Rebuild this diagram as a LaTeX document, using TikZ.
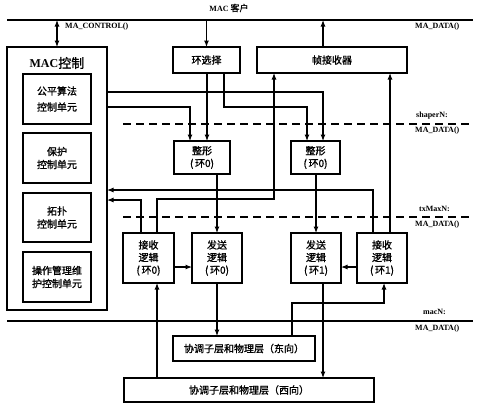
\documentclass[tikz,border=0pt]{standalone}
\usepackage{fontspec}
\setmainfont{Liberation Serif}
\newfontfamily\cjk[FakeBold=1.2]{Noto Sans CJK SC}
\usetikzlibrary{arrows.meta}
\begin{document}
\begin{tikzpicture}[x=1pt,y=-1pt,
  box/.style={draw,line width=1.1pt,inner sep=0pt,outer sep=0pt,align=center,
    font=\cjk\fontsize{10}{12.5}\selectfont},
  unitbox/.style={box,minimum width=68pt,font=\cjk\fontsize{10}{13}\selectfont},
  wire/.style={line width=1.1pt},
  arr/.style={wire,-{Latex[length=6.5pt,width=5pt]}},
  darr/.style={wire,{Latex[length=6.5pt,width=5pt]}-{Latex[length=6.5pt,width=5pt]}},
  bus/.style={line width=1.4pt},
  dbus/.style={line width=1.4pt,dash pattern=on 8pt off 5pt},
  lab/.style={inner sep=0pt,anchor=west,font=\bfseries\fontsize{8}{9}\selectfont},
]
\useasboundingbox (0,0) rectangle (478,405);
\fill[white] (0,0) rectangle (478,405);

% buses
\coordinate (busTopL) at (7,20);
\coordinate (busTopR) at (473,20);
\coordinate (shpL) at (123,124);
\coordinate (shpR) at (473,124);
\coordinate (txL) at (123,217);
\coordinate (txR) at (473,217);
\coordinate (macL) at (7,321);
\coordinate (macR) at (473,321);
\draw[bus] (busTopL) -- (busTopR);
\draw[dbus] (shpL) -- (shpR);
\draw[dbus] (txL) -- (txR);
\draw[bus] (macL) -- (macR);

% labels
\node[inner sep=0pt] (client) at (229,8) {\bfseries\fontsize{8}{9}\selectfont MAC {\cjk\mdseries\fontsize{9}{10}\selectfont 客户}};
\node[lab] (lctrl) at (65,27) {MA\_CONTROL()};
\node[lab] (ld1) at (415,27) {MA\_DATA()};
\node[lab] (lshp) at (416,116) {shaperN:};
\node[lab] (ld2) at (415,131) {MA\_DATA()};
\node[lab] (ltx) at (419,209) {txMaxN:};
\node[lab] (ld3) at (415,225) {MA\_DATA()};
\node[lab] (lmac) at (423,312) {macN:};
\node[lab] (ld4) at (415,329) {MA\_DATA()};

% MAC control
\node[box,minimum width=100pt,minimum height=263pt] (mac) at (57,178.5) {};
\node[inner sep=0pt] (mactitle) at (57,63) {\bfseries\fontsize{12}{14}\selectfont MAC{\cjk\mdseries\fontsize{13}{14}\selectfont 控制}};
\node[unitbox,minimum height=50pt,font=\cjk\fontsize{10}{16}\selectfont] (fair) at (57,99) {公平算法\\控制单元};
\node[unitbox,minimum height=50pt] (prot) at (57,158) {保护\\控制单元};
\node[unitbox,minimum height=49pt] (topo) at (57,217.5) {拓扑\\控制单元};
\node[unitbox,minimum height=50pt] (oam) at (57,277) {操作管理维\\护控制单元};

% top boxes
\node[box,minimum width=67pt,minimum height=26pt] (ringsel) at (206.5,60) {环选择};
\node[box,minimum width=150pt,minimum height=26pt] (framerx) at (332,60) {帧接收器};

% shapers
\node[box,minimum width=56pt,minimum height=33pt] (shaper0) at (202,157.5) {整形\\(\,环0)};
\node[box,minimum width=49pt,minimum height=33pt] (shaper1) at (315.5,157.5) {整形\\(\,环0)};

% logic
\node[box,minimum width=51pt,minimum height=50pt] (recv0) at (148.5,258) {接收\\逻辑\\(\,环0)};
\node[box,minimum width=50pt,minimum height=50pt] (tx0) at (217,258) {发送\\逻辑\\(\,环0)};
\node[box,minimum width=50pt,minimum height=50pt] (tx1) at (316,258) {发送\\逻辑\\(\,环1)};
\node[box,minimum width=50pt,minimum height=50pt] (recv1) at (382,258) {接收\\逻辑\\(\,环1)};

% phy
\node[box,minimum width=142pt,minimum height=25pt] (east) at (244,348.5) {协调子层和物理层（东向）};
\node[box,minimum width=250pt,minimum height=24pt] (west) at (249,390) {协调子层和物理层（西向）};

% connectors
\draw[darr] (mac.north |- busTopL) -- (mac.north);
\draw[arr] (ringsel.south |- busTopL) -- (ringsel.north);
\draw[arr] (framerx.north -| 323,0) -- (323,20);

\draw[arr] (mac.east |- 0,92) -| (shaper1.north -| 323,0);
\draw[arr] (mac.east |- 0,107) -| (shaper0.north -| 190,0);
\draw[arr] (ringsel.south -| 207,0) -- (shaper0.north -| 207,0);
\draw[arr] (ringsel.south -| 224,0) -- (224,107) -| (shaper1.north -| 307,0);

\draw[arr] (shaper0.south -| tx0.north) -- (tx0.north);
\draw[arr] (shaper1.south -| tx1.north) -- (tx1.north);

\draw[arr] (recv0.north -| 141,0) |- (mac.east |- 0,200);
\draw[arr] (recv0.north -| 157,0) -- (157,199) -| (framerx.south -| 274,0);
\draw[arr] (recv1.north -| 373,0) |- (mac.east |- 0,190);
\draw[arr] (recv1.north -| 390,0) -- (framerx.south -| 390,0);

\draw[arr] (recv0.east |- 0,267) -- (tx0.west |- 0,267);
\draw[arr] (recv1.west |- 0,267) -- (tx1.east |- 0,267);

\draw[arr] (tx0.south) -- (east.north -| tx0.south);
\draw[arr] (west.north -| 157,0) -- (recv0.south -| 157,0);
\draw[arr] (tx1.south -| 323,0) -- (west.north -| 323,0);
\draw[arr] (east.north -| 292,0) -- (292,303) -| (recv1.south -| 384,0);
\end{tikzpicture}
\end{document}
